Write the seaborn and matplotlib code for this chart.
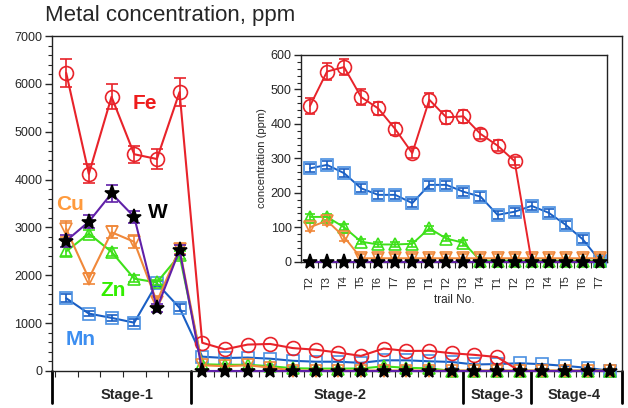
import numpy as np
import matplotlib
matplotlib.use("Agg")
import matplotlib.pyplot as plt
import matplotlib.transforms as mtransforms
from matplotlib.ticker import MultipleLocator, FixedLocator, NullFormatter
import seaborn as sns

# ---- data ----
# stage-1 (main plot only), ppm
stage1_fe = [6230, 4120, 5730, 4530, 4430, 5830]
stage1_mn = [1520, 1200, 1110, 1010, 1830, 1320]
stage1_zn = [2500, 2870, 2490, 1930, 1850, 2420]
stage1_cu = [2970, 1930, 2900, 2700, 1450, 2550]
stage1_w = [2720, 3120, 3710, 3220, 1310, 2530]

stage1_fe_err = [300, 200, 260, 180, 210, 290]
stage1_mn_err = [80, 60, 60, 70, 60, 70]
stage1_zn_err = [90, 80, 80, 70, 60, 80]
stage1_cu_err = [170, 110, 130, 140, 100, 100]
stage1_w_err = [130, 130, 170, 130, 80, 100]

# first stage-2 trail (not shown in the inset)
first_fe, first_mn, first_zn, first_cu, first_w = 590, 300, 140, 120, 0

# trails shown in the inset
trail_labels = ['T2', 'T3', 'T4', 'T5', 'T6', 'T7', 'T8', 'T1', 'T2', 'T3', 'T4',
                'T1', 'T2', 'T3', 'T4', 'T5', 'T6', 'T7']
trail_fe = [452, 552, 565, 478, 445, 385, 315, 470, 419, 422, 371, 337, 292, 0, 0, 0, 0, 0]
trail_mn = [271, 281, 257, 213, 194, 194, 170, 223, 223, 203, 189, 136, 145, 162, 142, 107, 65, 3]
trail_zn = [130, 130, 100, 58, 50, 50, 52, 97, 67, 55, 3, 3, 3, 3, 3, 3, 3, 3]
trail_cu = [100, 119, 72, 10, 10, 10, 10, 10, 10, 10, 10, 10, 10, 10, 10, 10, 10, 10]
trail_w = [0] * 18

trail_fe_err = [22, 25, 22, 22, 18, 18, 15, 20, 18, 18, 15, 15, 12, 0, 0, 0, 0, 0]
trail_mn_err = [12] * 18
trail_zn_err = [8] * 10 + [4] * 8
trail_cu_err = [12] * 18

stage_names = ['Stage-1', 'Stage-2', 'Stage-3', 'Stage-4']
stage_label_x = [2.7, 12.1, 19.0, 22.4]
stage_dividers = [-0.62, 5.5, 17.5, 20.5, 24.5]

sns.set_style("ticks")
plt.rcParams['font.family'] = ['Liberation Sans', 'DejaVu Sans']

fe_c = '#e8232a'
mn_line, mn_mk = '#1a5fc4', '#4a90e2'
zn_c = '#3ee01a'
cu_c = '#f0883a'
w_line = '#6020a8'

styles = [
    # name, line color, marker, ms, marker edge, marker face, zorder
    ('Mn', mn_line, 's', 8, mn_mk, 'none', 3),
    ('Zn', zn_c, '^', 8, zn_c, 'none', 4),
    ('Cu', cu_c, 'v', 8, cu_c, 'none', 4),
    ('Fe', fe_c, 'o', 10, fe_c, 'none', 5),
    ('W', w_line, '*', 11, 'black', 'black', 6),
]


def draw(ax, x, series, errs, err_n, lw=1.5, capsize=4):
    for (name, lc, mk, ms, mec, mfc, z) in styles:
        y = np.asarray(series[name], dtype=float)
        extra = {}
        if name == 'Fe':
            # no Fe markers where it has dropped to zero
            extra['markevery'] = [i for i, v in enumerate(y) if v > 0]
        sns.lineplot(x=x, y=y, ax=ax, color=lc, lw=lw, marker=mk, markersize=ms,
                     markeredgecolor=mec, markerfacecolor=mfc, markeredgewidth=1.2,
                     zorder=z, legend=False, clip_on=False, **extra)
        e = np.asarray(errs[name], dtype=float)
        ax.errorbar(x[:err_n], y[:err_n], yerr=e, fmt='none', ecolor=lc,
                    elinewidth=1.2, capsize=capsize, capthick=1.2, zorder=z - 0.5,
                    clip_on=False)


fig = plt.figure(figsize=(6.28, 4.08), dpi=100)
ax = fig.add_axes([0.083, 0.0907, 0.907, 0.821])

main_series = {
    'Fe': stage1_fe + [first_fe] + trail_fe,
    'Mn': stage1_mn + [first_mn] + trail_mn,
    'Zn': stage1_zn + [first_zn] + trail_zn,
    'Cu': stage1_cu + [first_cu] + trail_cu,
    'W': stage1_w + [first_w] + trail_w,
}
main_errs = {'Fe': stage1_fe_err, 'Mn': stage1_mn_err, 'Zn': stage1_zn_err,
             'Cu': stage1_cu_err, 'W': stage1_w_err}
xm = np.arange(len(main_series['Fe']))
draw(ax, xm, main_series, main_errs, 6)

ax.set_xlim(-0.62, 24.5)
ax.set_ylim(0, 7000)
ax.yaxis.set_major_locator(MultipleLocator(1000))
ax.yaxis.set_minor_locator(MultipleLocator(200))
ax.xaxis.set_major_locator(FixedLocator([i + 0.5 for i in range(-1, 24) if i + 0.5 not in stage_dividers]))
ax.xaxis.set_major_formatter(NullFormatter())
ax.tick_params(axis='y', which='major', direction='out', length=5, width=1, labelsize=9, pad=2)
ax.tick_params(axis='y', which='minor', direction='out', length=3, width=0.8)
ax.tick_params(axis='x', which='major', direction='out', length=4, width=0.8)
for s in ax.spines.values():
    s.set_linewidth(1.0)
    s.set_color('#222222')
ax.set_xlabel('')
ax.set_ylabel('')

trans = mtransforms.blended_transform_factory(ax.transData, ax.transAxes)
for xd in stage_dividers:
    ax.plot([xd, xd], [0, -0.095], transform=trans, color='black', lw=2, clip_on=False)
for name, xs in zip(stage_names, stage_label_x):
    ax.text(xs, -0.072, name, transform=trans, ha='center', va='center',
            fontsize=10.5, fontweight='bold')

# element labels
ax.text(3.48, 5600, 'Fe', color='#ee1c1c', fontsize=15, fontweight='bold', ha='center', va='center')
ax.text(0.18, 3470, 'Cu', color='#ff9a3c', fontsize=15, fontweight='bold', ha='center', va='center')
ax.text(4.05, 3320, 'W', color='black', fontsize=15, fontweight='bold', ha='center', va='center')
ax.text(2.07, 1690, 'Zn', color='#33ee00', fontsize=15, fontweight='bold', ha='center', va='center')
ax.text(0.62, 650, 'Mn', color='#3d8ef0', fontsize=15, fontweight='bold', ha='center', va='center')

fig.text(0.072, 0.961, 'Metal concentration, ppm', fontsize=16, ha='left', va='center')

# ---- inset ----
axi = fig.add_axes([0.480, 0.3586, 0.486, 0.5066])
axi.set_facecolor('white')
inset_series = {'Fe': trail_fe, 'Mn': trail_mn, 'Zn': trail_zn, 'Cu': trail_cu, 'W': trail_w}
inset_errs = {'Fe': trail_fe_err, 'Mn': trail_mn_err, 'Zn': trail_zn_err,
              'Cu': trail_cu_err, 'W': [0] * 18}
xi = np.arange(len(trail_labels))
draw(axi, xi, inset_series, inset_errs, 18, lw=1.4, capsize=3.5)
axi.set_xlim(-0.5, 17.4)
axi.set_ylim(0, 600)
axi.yaxis.set_major_locator(MultipleLocator(100))
axi.yaxis.set_minor_locator(MultipleLocator(20))
axi.set_xticks(xi)
axi.set_xticklabels(trail_labels, rotation=90)
axi.xaxis.set_minor_locator(FixedLocator([i + 0.5 for i in range(0, 17)]))
axi.tick_params(axis='x', which='major', length=0, labelsize=8, pad=10)
axi.tick_params(axis='x', which='minor', direction='out', length=4, width=0.8)
axi.tick_params(axis='y', which='major', direction='out', length=5, width=1, labelsize=9, pad=2)
axi.tick_params(axis='y', which='minor', direction='out', length=3, width=0.8)
axi.set_xlabel('trail No.', fontsize=8.5, labelpad=4)
axi.set_ylabel('concentration (ppm)', fontsize=8, labelpad=3)
for s in axi.spines.values():
    s.set_linewidth(1.0)
    s.set_color('#222222')

fig.savefig('out.png', dpi=100)
